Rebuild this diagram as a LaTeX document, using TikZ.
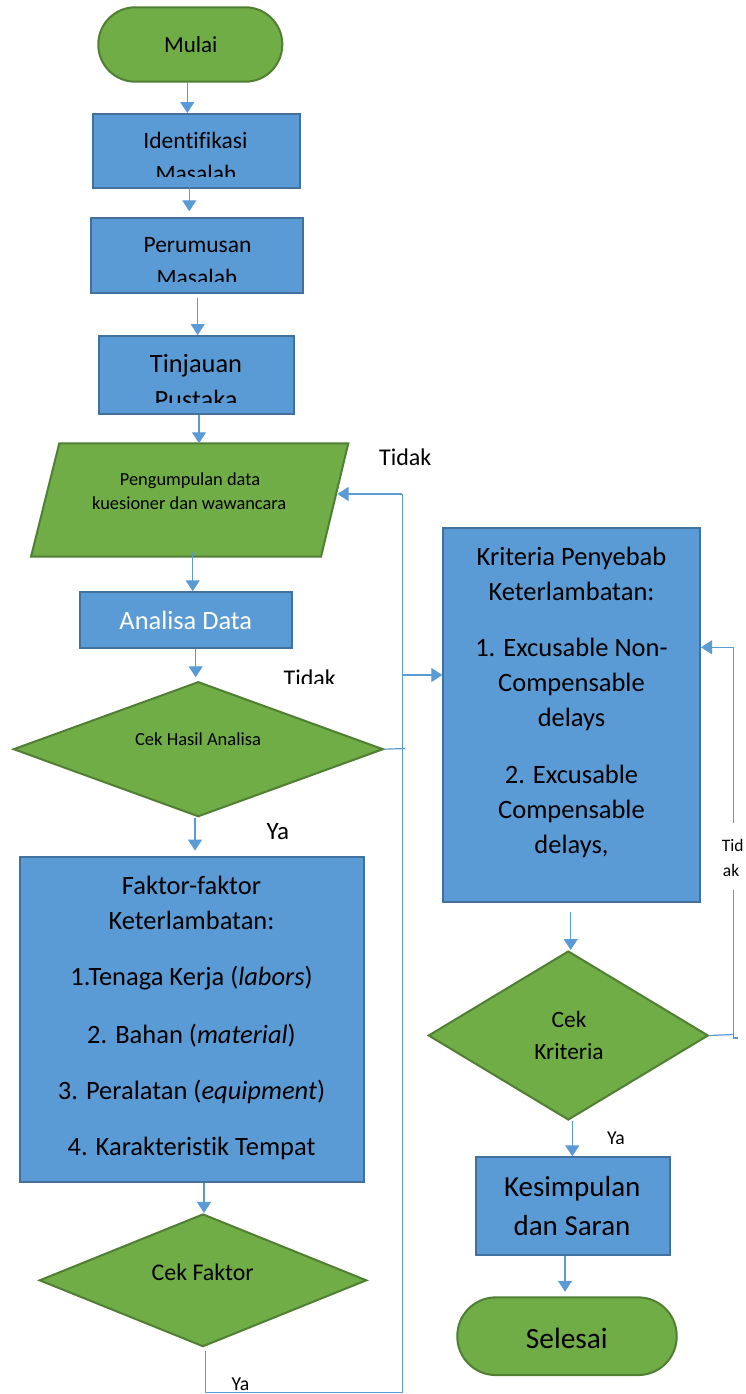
\documentclass[tikz,border=0pt]{standalone}
\usepackage{fontspec}
\setmainfont[Ligatures=NoCommon]{Carlito}
\usetikzlibrary{arrows.meta,shapes.geometric}
\definecolor{boxblue}{HTML}{5B9BD5}
\definecolor{boxedge}{HTML}{41719C}
\definecolor{termgreen}{HTML}{70AD47}
\definecolor{greenedge}{HTML}{507E32}
\definecolor{lineblue}{HTML}{5B9BD5}
\newcommand{\myfs}[1]{\fontsize{#1}{#1}\selectfont}
\begin{document}
\begin{tikzpicture}[x=1pt,y=-1pt,
  bluebox/.style={draw=boxedge, fill=boxblue, line width=2pt, inner sep=0pt},
  greenshape/.style={draw=greenedge, fill=termgreen, line width=2pt, inner sep=0pt},
  decision/.style={greenshape, diamond},
  conn/.style={draw=lineblue, line width=1.2pt},
  arr/.style={conn, -{Triangle[width=14pt,length=11pt]}},
  lbl/.style={anchor=base, inner sep=0pt, text=black},
]
\useasboundingbox (0,0) rectangle (745,1394);

% ---------- shapes ----------
\node[greenshape, rounded corners=37pt, minimum width=184pt, minimum height=74.4pt] (mulai) at (190.3,44.5) {};
\node[bluebox, minimum width=206.7pt, minimum height=74.3pt] (idm) at (196.6,151.2) {};
\node[bluebox, minimum width=212.6pt, minimum height=75pt] (prm) at (197,255.8) {};
\node[bluebox, minimum width=195pt, minimum height=78.3pt] (tjp) at (196.5,375.2) {};
\draw[greenshape] (59.3,443.3) -- (348.3,443.3) -- (321,556.7) -- (31,556.7) -- cycle;
\coordinate (parTop) at (199,443.3);
\coordinate (parBot) at (192.7,551.7);
\coordinate (parR) at (337.5,494);
\node[bluebox, minimum width=212.3pt, minimum height=56pt] (ana) at (186.2,620.3) {};
\node[decision, minimum width=370pt, minimum height=135pt] (cha) at (198.3,749.2) {};
\node[bluebox, minimum width=344.3pt, minimum height=324.7pt] (fak) at (192.2,1019.3) {};
\node[decision, minimum width=327.4pt, minimum height=132.7pt] (cfa) at (203,1280.3) {};
\node[bluebox, minimum width=256.7pt, minimum height=373.7pt] (kri) at (571.7,715.2) {};
\node[decision, minimum width=280pt, minimum height=169pt] (ckr) at (568.3,1035.5) {};
\node[bluebox, minimum width=194.3pt, minimum height=97.7pt] (kes) at (572.8,1206.2) {};
\node[greenshape, rounded corners=38.5pt, minimum width=219.4pt, minimum height=77.7pt] (sel) at (567,1336.2) {};

% ---------- main arrows ----------
\draw[arr] ([xshift=-3pt]mulai.south) -- ([xshift=-3pt]mulai.south |- idm.north);
\draw[arr, shorten >=6pt] ([xshift=-7.3pt,yshift=2pt]idm.south) -- ([xshift=-7.3pt]idm.south |- prm.north);
\draw[arr] ([xshift=0.7pt,yshift=-3.4pt]prm.south) -- ([xshift=0.7pt]prm.south |- tjp.north);
\draw[arr] ([xshift=2.5pt]tjp.south) -- (parTop);
\draw[arr] (parBot) -- (parBot |- ana.north);
\draw[arr, shorten >=3.4pt] ([xshift=9.5pt]ana.south) -- ([xshift=9.5pt]ana.south |- cha.north);
\draw[arr, shorten >=5.3pt] ([xshift=-3.3pt]cha.south) -- ([xshift=-3.3pt]cha.south |- fak.north);
\draw[arr] ([xshift=11.8pt]fak.south) -- ([xshift=11.8pt]fak.south |- cfa.north);
\draw[arr] ([xshift=-1pt,yshift=-8.7pt]kri.south) -- ([xshift=-1pt]kri.south |- ckr.north);
\draw[arr] ([xshift=4pt]ckr.south) -- ([xshift=4pt]ckr.south |- kes.north);
\draw[arr, shorten >=4.6pt] ([xshift=-7.8pt]kes.south) -- ([xshift=-7.8pt]kes.south |- sel.north);

% ---------- loop on the left/middle ----------
\coordinate (loopT) at (402.3,494);
\coordinate (loopB) at (402.3,1392.7);
\coordinate (kriW) at ([yshift=40.2pt]kri.west);
\coordinate (chaStub) at (405,748.5);
\draw[conn] ([xshift=2.7pt,yshift=-3.3pt]cfa.south) |- (loopB) -- (loopT);
\draw[arr] (loopT) -- (parR);
\draw[arr] (loopT |- kriW) -- (kriW);
\draw[conn] (cha.east) -- (chaStub);

% ---------- loop on the right ----------
\coordinate (rA) at (733.3,1034.5);
\coordinate (rB) at (733.3,890);
\coordinate (rC) at (733.3,823.3);
\coordinate (kriE) at ([yshift=67.9pt]kri.east);
\coordinate (rStub) at (737.7,1038);
\draw[conn] (ckr.east) -- (rA);
\draw[conn] (rStub) -| (rB);
\draw[arr] (rC) |- (kriE);

% ---------- texts ----------
\node[lbl, font=\myfs{23}] (tMulai) at (190.8,52.7) {Mulai};

\node[lbl, font=\myfs{23.5}] (tIdent) at (195.5,148.3) {Identifikasi};
\begin{scope}
  \clip (93,114) rectangle (300,176.7);
  \node[lbl, font=\myfs{23.5}] (tIdent2) at (196,181) {Masalah};
\end{scope}

\node[lbl, font=\myfs{23.5}] (tPerum) at (197.5,252.3) {Perumusan};
\begin{scope}
  \clip (91,219) rectangle (303,281.7);
  \node[lbl, font=\myfs{23.5}] (tPerum2) at (197,285.7) {Masalah};
\end{scope}

\node[lbl, font=\myfs{26.4}] (tTinj) at (196,372.3) {Tinjauan};
\begin{scope}
  \clip (99,336) rectangle (294,402.7);
  \node[lbl, font=\myfs{26.4}] (tTinj2) at (196,408.7) {Pustaka};
\end{scope}

\node[lbl, font=\myfs{18.4}] (tPeng1) at (190,485.7) {Pengumpulan data};
\node[lbl, font=\myfs{18.4}] (tPeng2) at (189.2,509.3) {kuesioner dan wawancara};

\node[lbl, font=\myfs{26.4}, text=white] (tAna) at (185.8,629.3) {Analisa Data};

\node[lbl, font=\myfs{18.5}] (tCha) at (198,745) {Cek Hasil Analisa};

\node[lbl, font=\myfs{24}] (tTidak1) at (405.3,465.7) {Tidak};
\begin{scope}
  \clip (270,660) rectangle (350,683.3);
  \node[lbl, font=\myfs{24}] (tTidak2) at (309.7,686) {Tidak};
\end{scope}
\node[lbl, font=\myfs{25}] (tYa1) at (277.8,839.3) {Ya};

\node[lbl, font=\myfs{26.5}] (f1) at (191.5,894) {Faktor-faktor};
\node[lbl, font=\myfs{26.5}] (f2) at (191.5,929) {Keterlambatan:};
\node[lbl, font=\myfs{26.5}] (f3) at (191.5,985.7) {1.Tenaga Kerja (\textit{labors})};
\node[lbl, font=\myfs{26.5}] (f4) at (191.5,1043.3) {2. Bahan (\textit{material})};
\node[lbl, font=\myfs{26.5}] (f5) at (191.5,1099) {3. Peralatan (\textit{equipment})};
\node[lbl, font=\myfs{26.5}] (f6) at (191.5,1155) {4. Karakteristik Tempat};

\node[lbl, font=\myfs{23.9}] (tCfa) at (202.7,1280) {Cek Faktor};
\node[lbl, font=\myfs{19.7}] (tYa3) at (240.5,1390) {Ya};

\node[lbl, font=\myfs{26.5}] (k1) at (571.5,565) {Kriteria Penyebab};
\node[lbl, font=\myfs{26.5}] (k2) at (571.5,600) {Keterlambatan:};
\node[lbl, font=\myfs{26.5}] (k3) at (571.5,656.7) {1. Excusable Non-};
\node[lbl, font=\myfs{26.5}] (k4) at (571.5,691.7) {Compensable};
\node[lbl, font=\myfs{26.5}] (k5) at (571.5,726.7) {delays};
\node[lbl, font=\myfs{26.5}] (k6) at (571.5,783) {2. Excusable};
\node[lbl, font=\myfs{26.5}] (k7) at (571.5,818) {Compensable};
\node[lbl, font=\myfs{26.5}] (k8) at (571.5,853) {delays,};

\node[lbl, font=\myfs{17.5}, anchor=base west] (tTid) at (721.7,851.7) {Tid};
\node[lbl, font=\myfs{17.5}, anchor=base west] (tAk) at (722.7,876) {ak};

\node[lbl, font=\myfs{23.4}] (tCk1) at (569,1027.3) {Cek};
\node[lbl, font=\myfs{23.4}] (tCk2) at (569,1059.3) {Kriteria};

\begin{scope}
  \clip (595,1120) rectangle (640,1143.3);
  \node[lbl, font=\myfs{19.7}] (tYa2) at (616,1144.4) {Ya};
\end{scope}

\node[lbl, font=\myfs{29}] (tKes1) at (572.2,1196.7) {Kesimpulan};
\node[lbl, font=\myfs{29}] (tKes2) at (572,1235) {dan Saran};
\node[lbl, font=\myfs{29.4}] (tSel) at (566.8,1348.3) {Selesai};
\end{tikzpicture}
\end{document}
